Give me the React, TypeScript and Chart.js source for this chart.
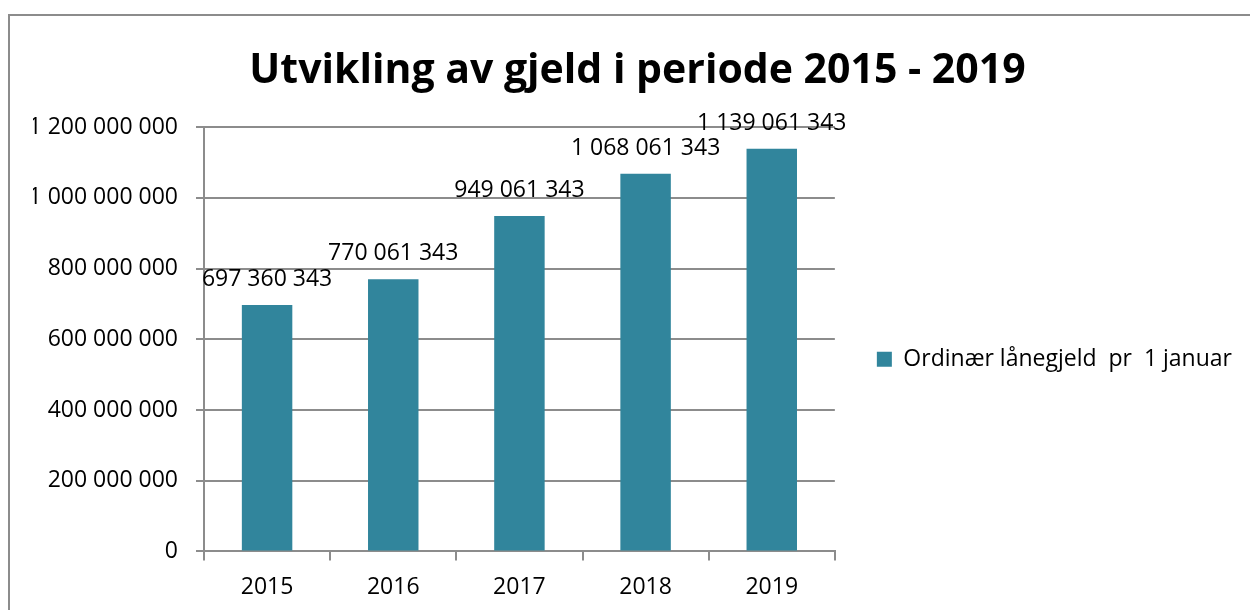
import React, { useEffect, useRef } from "react";
import { Chart, registerables } from "chart.js";

Chart.register(...registerables);

const titleText = "Utvikling av gjeld i periode 2015 - 2019";
const categories = ["2015", "2016", "2017", "2018", "2019"];
const seriesLabel = "Ordinær lånegjeld  pr  1 januar";
const debtValues = [697360343, 770061343, 949061343, 1068061343, 1139061343];
const yMin = 0;
const yMax = 1200000000;
const yStep = 200000000;

const FONT = "'Open Sans', 'Liberation Sans', sans-serif";
const BAR_COLOR = "#31859C";
const LINE_COLOR = "#8c8c8c";

const fmt = (v: number | string) =>
  String(Math.round(Number(v))).replace(/\B(?=(\d{3})+(?!\d))/g, " ");

const valueLabelPlugin = {
  id: "valueLabels",
  afterDatasetsDraw(chart: any) {
    const ctx = chart.ctx;
    const meta = chart.getDatasetMeta(0);
    ctx.save();
    ctx.font = `23px ${FONT}`;
    ctx.fillStyle = "#000";
    ctx.textAlign = "center";
    ctx.textBaseline = "alphabetic";
    meta.data.forEach((bar: any, i: number) => {
      ctx.fillText(fmt(debtValues[i]), bar.x, bar.y - 19);
    });
    ctx.restore();
  },
};

export default function App() {
  const ref = useRef<HTMLCanvasElement | null>(null);

  useEffect(() => {
    if (!ref.current) return;
    const chart = new Chart(ref.current, {
      type: "bar",
      data: {
        labels: categories,
        datasets: [
          {
            label: seriesLabel,
            data: debtValues,
            backgroundColor: BAR_COLOR,
            borderWidth: 0,
            barPercentage: 0.4,
            categoryPercentage: 1,
          },
        ],
      },
      options: {
        responsive: false,
        animation: false,
        devicePixelRatio: 1,
        layout: { padding: { left: 23, right: 8, top: 0, bottom: -4 } },
        plugins: {
          title: {
            display: true,
            text: titleText,
            color: "#000",
            font: { family: FONT, size: 41, weight: "bold", lineHeight: 1.2 },
            padding: { top: 31, bottom: 31 },
          },
          legend: {
            position: "right",
            fullSize: false,
            maxWidth: 440,
            labels: {
              boxWidth: 15,
              boxHeight: 15,
              padding: 42,
              color: "#000",
              font: { family: FONT, size: 23 },
            },
            title: {
              display: true,
              text: " ",
              color: "rgba(0,0,0,0)",
              font: { family: FONT, size: 10, lineHeight: 1 },
              padding: { top: 30, bottom: 0 },
            },
          },
          tooltip: { enabled: false },
        },
        scales: {
          x: {
            grid: {
              offset: true,
              drawOnChartArea: false,
              drawTicks: true,
              tickLength: 9,
              color: LINE_COLOR,
              lineWidth: 2,
            },
            border: { color: LINE_COLOR, width: 2 },
            ticks: { color: "#000", font: { family: FONT, size: 23 }, padding: 13 },
          },
          y: {
            min: yMin,
            max: yMax,
            afterFit: (scale: any) => {
              scale.width = 171;
            },
            ticks: {
              stepSize: yStep,
              callback: (v: any) => fmt(v),
              color: "#000",
              font: { family: FONT, size: 23 },
              padding: 18,
            },
            grid: { color: LINE_COLOR, lineWidth: 2, tickLength: 8 },
            border: { color: LINE_COLOR, width: 2 },
          },
        },
      },
      plugins: [valueLabelPlugin],
    } as any);
    return () => chart.destroy();
  }, []);

  return (
    <div
      style={{
        position: "fixed",
        left: 8,
        top: 14,
        right: 0,
        bottom: -20,
        borderTop: `2px solid ${LINE_COLOR}`,
        borderLeft: `2px solid ${LINE_COLOR}`,
        background: "#fff",
      }}
    >
      <canvas
        ref={ref}
        width={1240}
        height={594}
        style={{ display: "block", width: 1240, height: 594 }}
      />
    </div>
  );
}
